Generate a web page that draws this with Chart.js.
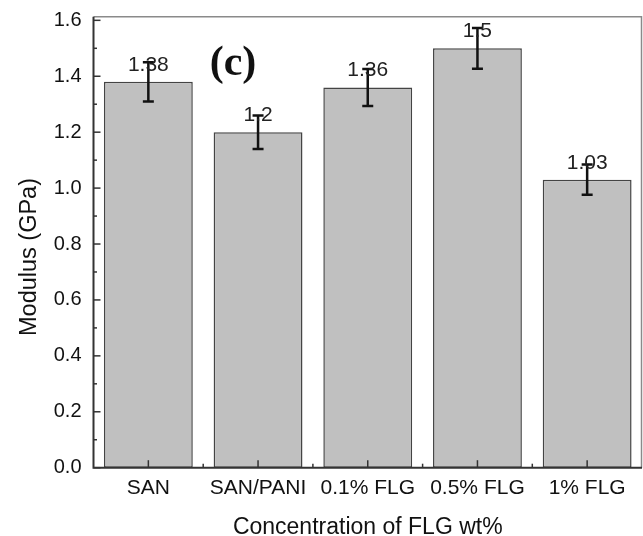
<!DOCTYPE html>
<html>
<head>
<meta charset="utf-8">
<script src="https://cdn.jsdelivr.net/npm/chart.js@4.4.0/dist/chart.umd.min.js"></script>
<style>
  html, body { margin: 0; padding: 0; background: #fff; }
  #wrap { width: 643px; height: 536px; }
</style>
</head>
<body>
<div id="wrap"><canvas id="chart" width="643" height="536"></canvas></div>
<script>
const categories = ['SAN', 'SAN/PANI', '0.1% FLG', '0.5% FLG', '1% FLG'];
const modulus = [1.38, 1.2, 1.36, 1.5, 1.03];
const errors = [0.07, 0.06, 0.066, 0.073, 0.054];
const yTicks = [0, 0.2, 0.4, 0.6, 0.8, 1.0, 1.2, 1.4, 1.6];
const yMinorTicks = [0.1, 0.3, 0.5, 0.7, 0.9, 1.1, 1.3, 1.5];

const FONT = 'Arial, "Liberation Sans", sans-serif';

// error bars, value labels, inner ticks, frame, titles
const extras = {
    id: 'extras',
    afterDatasetsDraw(chart) {
        const ctx = chart.ctx;
        const x = chart.scales.x;
        const y = chart.scales.y;
        const area = chart.chartArea;
        const meta = chart.getDatasetMeta(0);

        ctx.save();
        // frame
        ctx.lineWidth = 1.5;
        ctx.strokeStyle = '#8a8a8a';
        ctx.beginPath();
        ctx.moveTo(area.left, area.top);
        ctx.lineTo(area.right - 0.5, area.top);
        ctx.lineTo(area.right - 0.5, area.bottom);
        ctx.stroke();
        ctx.strokeStyle = '#333';
        ctx.lineWidth = 2;
        ctx.beginPath();
        ctx.moveTo(area.left, area.top);
        ctx.lineTo(area.left, area.bottom);
        ctx.lineTo(area.right, area.bottom);
        ctx.stroke();

        // y ticks inward
        ctx.lineWidth = 1.5;
        yTicks.forEach(v => {
            const py = y.getPixelForValue(v);
            ctx.beginPath();
            ctx.moveTo(area.left, py);
            ctx.lineTo(area.left + 7, py);
            ctx.stroke();
        });
        yMinorTicks.forEach(v => {
            const py = y.getPixelForValue(v);
            ctx.beginPath();
            ctx.moveTo(area.left, py);
            ctx.lineTo(area.left + 3.5, py);
            ctx.stroke();
        });
        // x ticks
        categories.forEach((c, i) => {
            const px = x.getPixelForValue(i);
            ctx.beginPath();
            ctx.moveTo(px, area.bottom);
            ctx.lineTo(px, area.bottom - 7.5);
            ctx.stroke();
            if (i > 0) {
                const bx = px - (x.getPixelForValue(1) - x.getPixelForValue(0)) / 2;
                ctx.beginPath();
                ctx.moveTo(bx, area.bottom);
                ctx.lineTo(bx, area.bottom - 4);
                ctx.stroke();
            }
        });

        // error bars
        ctx.strokeStyle = '#111';
        ctx.lineWidth = 2.5;
        meta.data.forEach((bar, i) => {
            const cx = bar.x;
            const top = y.getPixelForValue(modulus[i] + errors[i]);
            const bot = y.getPixelForValue(modulus[i] - errors[i]);
            ctx.beginPath();
            ctx.moveTo(cx, top);
            ctx.lineTo(cx, bot);
            ctx.moveTo(cx - 5.5, top);
            ctx.lineTo(cx + 5.5, top);
            ctx.moveTo(cx - 5.5, bot);
            ctx.lineTo(cx + 5.5, bot);
            ctx.stroke();
        });

        // value labels
        ctx.fillStyle = '#222';
        ctx.font = '21px ' + FONT;
        ctx.textAlign = 'center';
        ctx.textBaseline = 'middle';
        meta.data.forEach((bar, i) => {
            ctx.fillText(String(modulus[i]), bar.x, bar.y - 17);
        });

        // panel label
        ctx.fillStyle = '#111';
        ctx.font = 'bold 42px "Liberation Serif", "Times New Roman", serif';
        ctx.fillText('(c)', 233, 64);

        // y axis title
        ctx.save();
        ctx.translate(30, 257);
        ctx.rotate(-Math.PI / 2);
        ctx.font = '23.5px ' + FONT;
        ctx.fillStyle = '#111';
        ctx.fillText('Modulus (GPa)', 0, 0);
        ctx.restore();

        ctx.restore();
    }
};

new Chart(document.getElementById('chart'), {
    type: 'bar',
    data: {
        labels: categories,
        datasets: [{
            data: modulus,
            backgroundColor: '#c0c0c0',
            borderColor: '#444',
            borderWidth: 1.5,
            borderSkipped: false,
            barPercentage: 0.81,
            categoryPercentage: 1.0
        }]
    },
    options: {
        responsive: false,
        animation: false,
        devicePixelRatio: 1,
        layout: { padding: { top: 16.7, right: 1, left: 0, bottom: 0 } },
        plugins: {
            legend: { display: false },
            tooltip: { enabled: false }
        },
        scales: {
            x: {
                grid: { display: false, drawTicks: false },
                border: { display: false },
                ticks: {
                    color: '#111',
                    font: { family: FONT, size: 21 },
                    padding: 8,
                    maxRotation: 0,
                    autoSkip: false
                },
                title: {
                    display: true,
                    text: 'Concentration of FLG wt%',
                    color: '#111',
                    font: { family: FONT, size: 23 },
                    padding: { top: 16, bottom: -5 }
                },
                afterFit(scale) {
                    scale.height = 68.3;
                    scale.paddingLeft = 0;
                    scale.paddingRight = 0;
                }
            },
            y: {
                min: 0,
                max: 1.613,
                grid: { display: false, drawTicks: false },
                border: { display: false },
                afterBuildTicks(scale) {
                    scale.ticks = yTicks.map(v => ({ value: v }));
                },
                ticks: {
                    color: '#111',
                    font: { family: FONT, size: 20 },
                    padding: 12,
                    callback: v => v.toFixed(1)
                },
                afterFit(scale) {
                    scale.width = 93.5;
                    scale.paddingTop = 0;
                    scale.paddingBottom = 0;
                }
            }
        }
    },
    plugins: [extras]
});
</script>
</body>
</html>
